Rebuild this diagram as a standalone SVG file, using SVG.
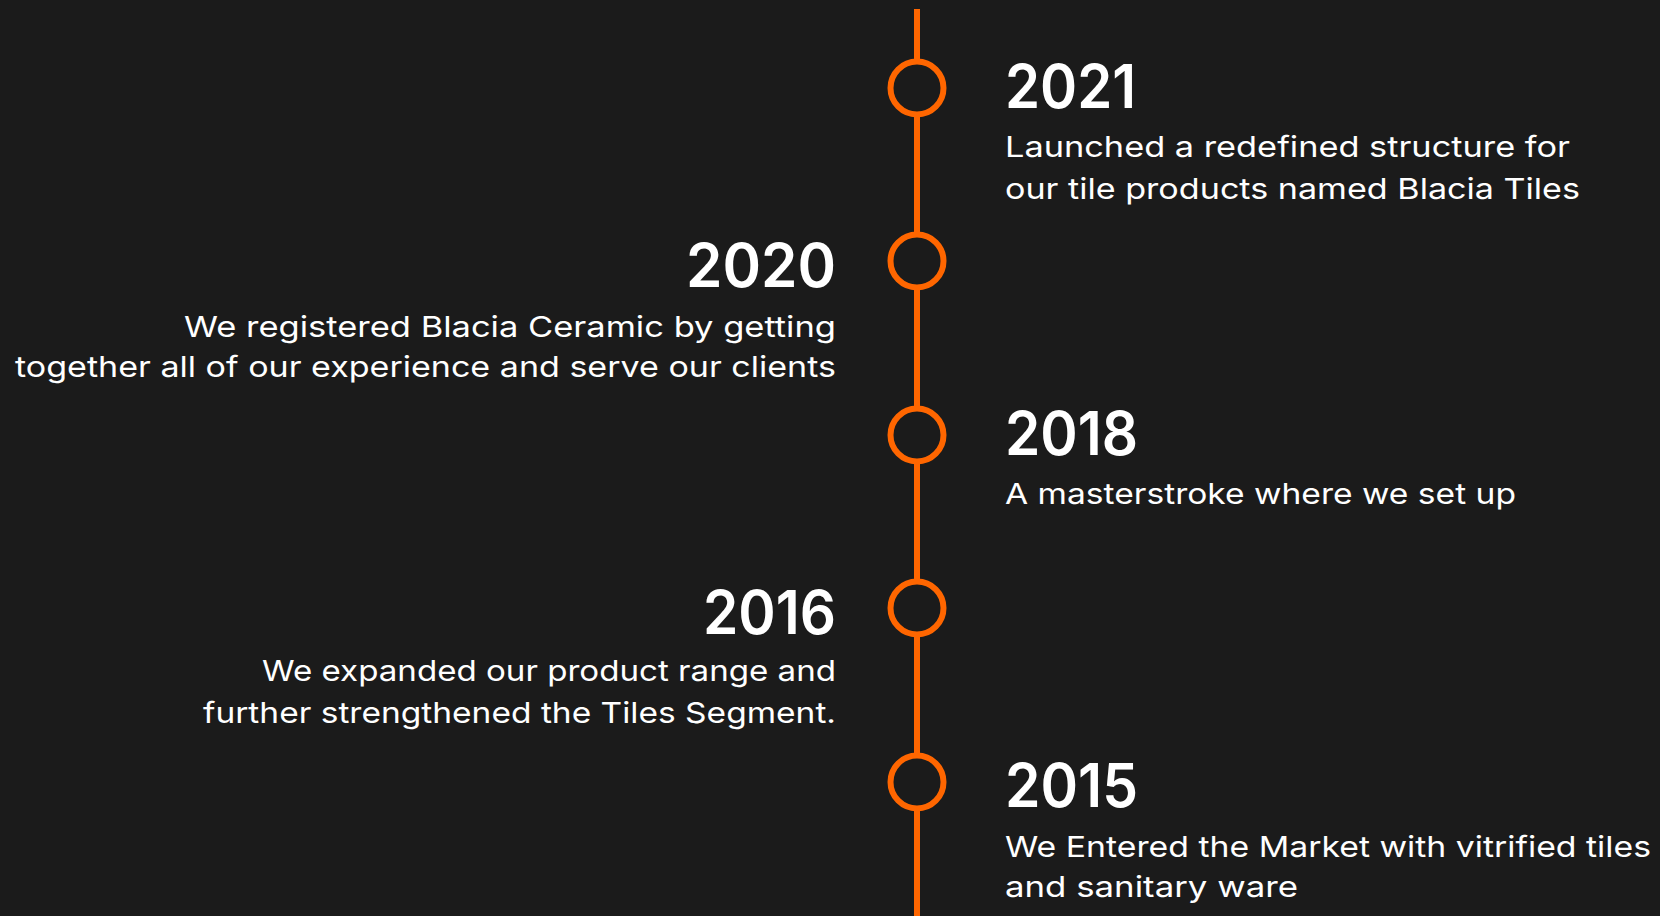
<svg xmlns="http://www.w3.org/2000/svg" width="1660" height="916" viewBox="0 0 1660 916">
<style>
.bg{fill:#1b1b1b}
.axis{stroke:#ff6600;stroke-width:6;fill:none}
.dot{fill:#1b1b1b;stroke:#ff6600;stroke-width:6}
.year{font-family:Inter,"Liberation Sans",sans-serif;font-weight:600;font-size:60px;fill:#ffffff}
.body{font-family:Inter,"Liberation Sans",sans-serif;font-weight:400;font-size:29px;fill:#ffffff}
.r{text-anchor:end}
</style>
<rect class="bg" x="0" y="0" width="1660" height="916"/>
<g id="connectors">
<line class="axis" x1="917" y1="9" x2="917" y2="916"/>
</g>
<g id="node-2021">
<circle class="dot" cx="917" cy="88" r="26.5"/>
<text class="year" x="1005" y="108" textLength="131" lengthAdjust="spacingAndGlyphs">2021</text>
<text class="body" x="1005" y="157" textLength="565" lengthAdjust="spacingAndGlyphs">Launched a redefined structure for</text>
<text class="body" x="1005" y="199" textLength="575" lengthAdjust="spacingAndGlyphs">our tile products named Blacia Tiles</text>
</g>
<g id="node-2020">
<circle class="dot" cx="917" cy="261" r="26.5"/>
<text class="year r" x="836" y="287" textLength="150" lengthAdjust="spacingAndGlyphs">2020</text>
<text class="body r" x="836" y="337" textLength="652" lengthAdjust="spacingAndGlyphs">We registered Blacia Ceramic by getting</text>
<text class="body r" x="836" y="377" textLength="821" lengthAdjust="spacingAndGlyphs">together all of our experience and serve our clients</text>
</g>
<g id="node-2018">
<circle class="dot" cx="917" cy="435" r="26.5"/>
<text class="year" x="1005" y="455" textLength="133" lengthAdjust="spacingAndGlyphs">2018</text>
<text class="body" x="1005" y="504" textLength="511" lengthAdjust="spacingAndGlyphs">A masterstroke where we set up</text>
</g>
<g id="node-2016">
<circle class="dot" cx="917" cy="608" r="26.5"/>
<text class="year r" x="836" y="634" textLength="133" lengthAdjust="spacingAndGlyphs">2016</text>
<text class="body r" x="836" y="681" textLength="574" lengthAdjust="spacingAndGlyphs">We expanded our product range and</text>
<text class="body r" x="836" y="723" textLength="633" lengthAdjust="spacingAndGlyphs">further strengthened the Tiles Segment.</text>
</g>
<g id="node-2015">
<circle class="dot" cx="917" cy="782" r="26.5"/>
<text class="year" x="1005" y="807" textLength="133" lengthAdjust="spacingAndGlyphs">2015</text>
<text class="body" x="1005" y="857" textLength="646" lengthAdjust="spacingAndGlyphs">We Entered the Market with vitrified tiles</text>
<text class="body" x="1005" y="897" textLength="293" lengthAdjust="spacingAndGlyphs">and sanitary ware</text>
</g>
</svg>
